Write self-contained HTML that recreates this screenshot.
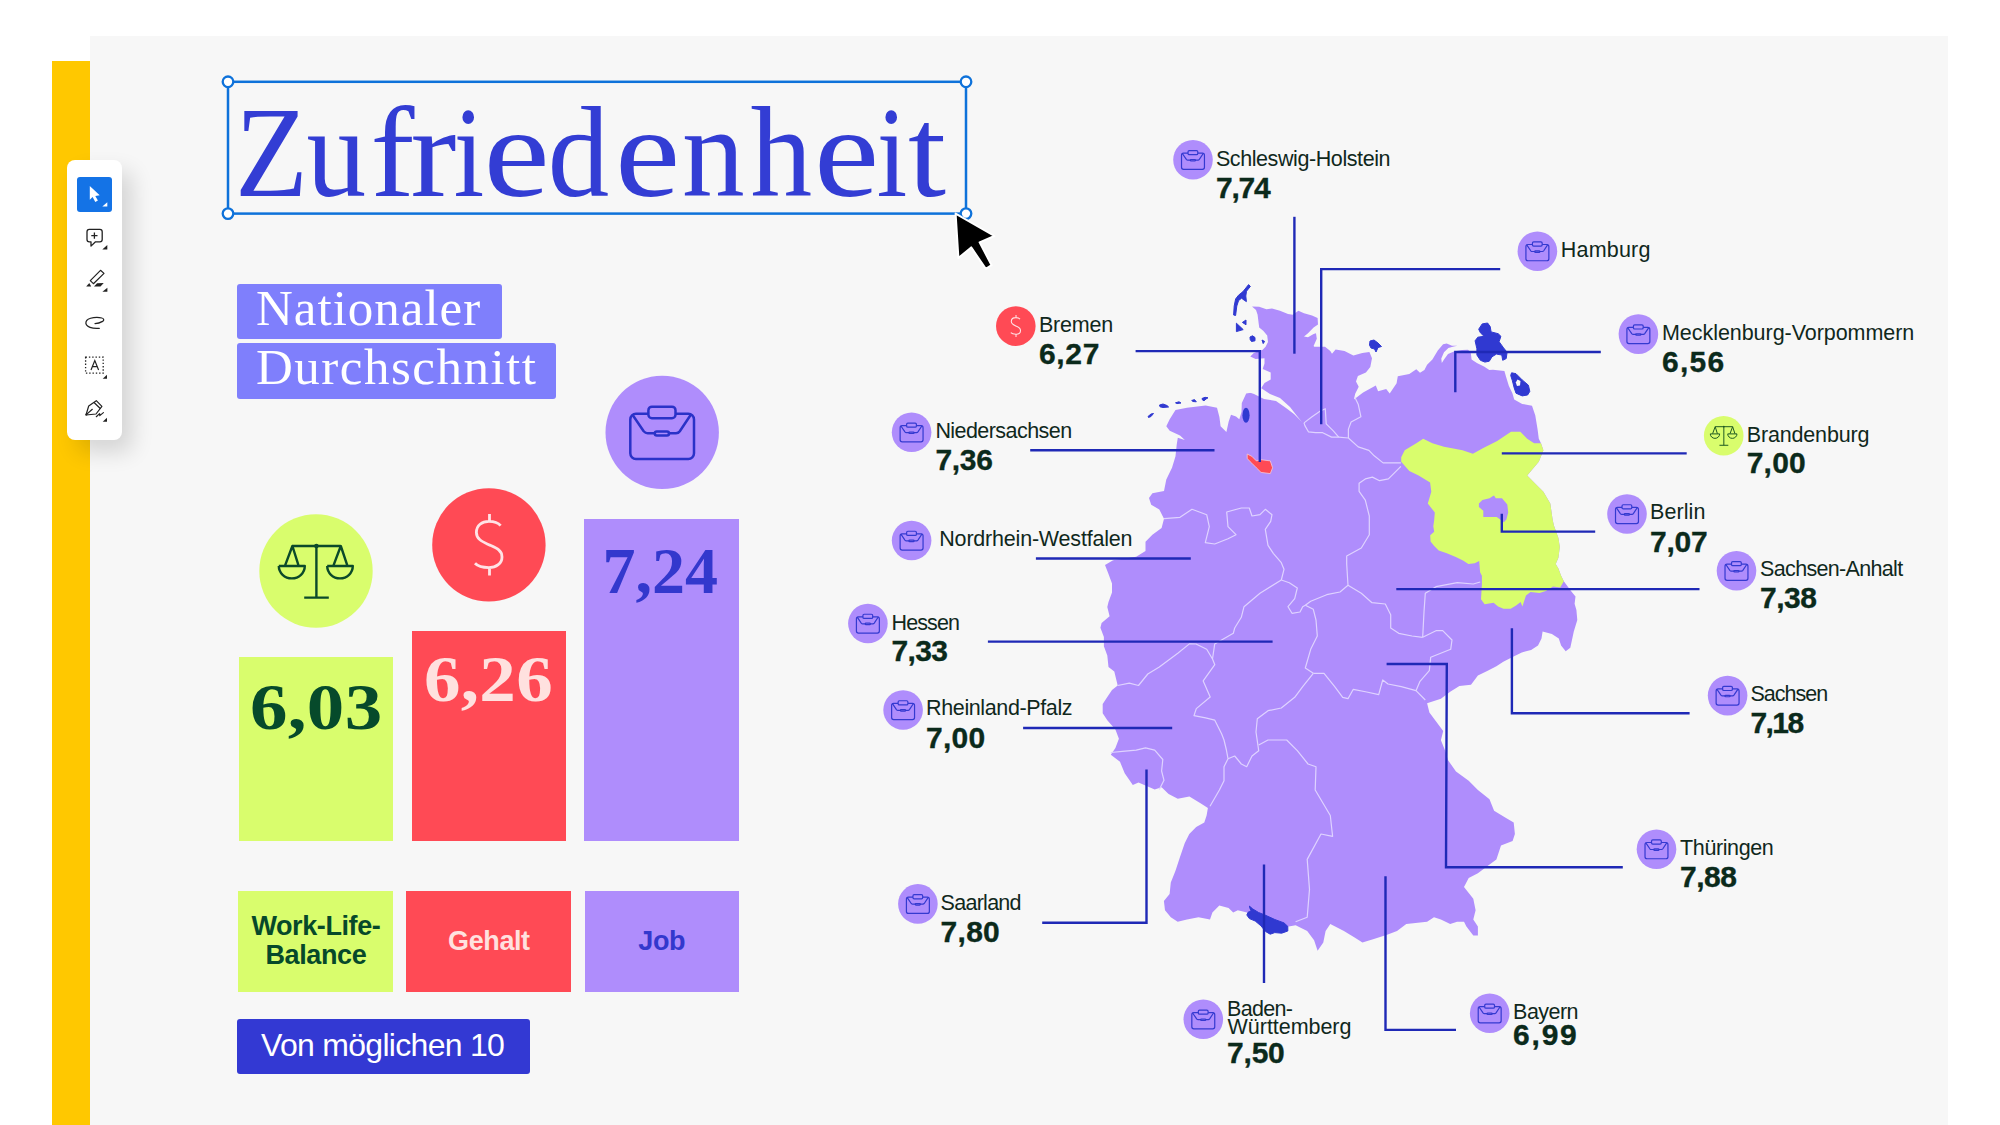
<!DOCTYPE html>
<html><head><meta charset="utf-8"><title>Zufriedenheit</title>
<style>
*{margin:0;padding:0;box-sizing:border-box}
html,body{width:2000px;height:1125px;overflow:hidden;background:#fff}
body{position:relative;font-family:"Liberation Sans",sans-serif}
#panel{position:absolute;left:90px;top:36px;width:1858px;height:1089px;background:#f7f7f7}
#yellow{position:absolute;left:52px;top:61px;width:38px;height:1064px;background:#ffc800}
#toolbar{position:absolute;left:67px;top:160px;width:55px;height:280px;background:#fff;border-radius:8px;box-shadow:10px 12px 22px rgba(0,0,0,0.14)}
#tb-sel{position:absolute;left:77px;top:177px;width:35px;height:35px;background:#1473e6;border-radius:3px}
.abs{position:absolute}
.tl{position:absolute;top:0}
#title{position:absolute;left:0;top:88px;width:1000px;height:130px;font-family:"Liberation Serif",serif;font-size:129px;line-height:129px;color:#333dd4;white-space:nowrap;letter-spacing:0.6px}
.nbox{position:absolute;background:#7f7ffc;border-radius:3px}
.ntext{position:absolute;font-family:"Liberation Serif",serif;font-size:51px;line-height:51px;color:#fff;white-space:nowrap;letter-spacing:1px}
.bar{position:absolute}
.bnum{position:absolute;font-family:"Liberation Serif",serif;font-weight:700;font-size:66px;line-height:66px;white-space:nowrap;letter-spacing:3px}
.lbl{position:absolute;display:flex;align-items:center;justify-content:center;text-align:center;font-weight:700;font-size:27px;line-height:29px;letter-spacing:-0.4px}
.nm{position:absolute;font-size:21.5px;line-height:21.5px;color:#10281c;white-space:nowrap}
.vl{position:absolute;font-size:30px;line-height:30px;font-weight:700;color:#0b2a1b;white-space:nowrap;-webkit-text-stroke:0.35px #0b2a1b}
</style></head><body>
<div id="panel"></div>
<div id="yellow"></div>

<div id="toolbar"></div>
<div id="tb-sel"></div>
<svg id="tbsvg" width="2000" height="1125" style="position:absolute;left:0;top:0">
 <!-- select arrow (white on blue) -->
 <path d="M89.8,185.9 L89.8,199.7 L92.6,197.1 L95.3,201.9 L97.9,200.5 L95.3,196.1 L99.7,195.3 Z" fill="#fff"/>
 <path d="M102.3,206.6 L107.3,202.3 L107.3,206.6 Z" fill="#fff"/>
 <!-- comment add -->
 <g fill="none" stroke="#222" stroke-width="1.3" stroke-linejoin="round">
  <path d="M89.3,229.4 h10.6 a2.3,2.3 0 0 1 2.3,2.3 v7.8 a2.3,2.3 0 0 1 -2.3,2.3 h-4.4 l-4.5,4.3 v-4.3 h-1.7 a2.3,2.3 0 0 1 -2.3,-2.3 v-7.8 a2.3,2.3 0 0 1 2.3,-2.3 z"/>
  <path d="M94.4,232.5 v6.2 M91.3,235.6 h6.2"/>
 </g>
 <path d="M102.3,249.4 L107.3,245.1 L107.3,249.4 Z" fill="#222"/>
 <!-- highlighter -->
 <path d="M90.3,280.6 L100.5,270.3 L104,273.4 L93.4,283.7 Z" fill="none" stroke="#222" stroke-width="1.2" stroke-linejoin="round"/>
 <path d="M86.2,286.6 L89.3,283.1 L91.2,286.6 Z" fill="#222"/>
 <path d="M94,286.6 L97.1,283.3 L103.7,283.1 L100.5,286.6 Z" fill="#222"/>
 <path d="M102.4,291.8 L107.4,287.7 L107.4,291.8 Z" fill="#222"/>
 <!-- lasso -->
 <path d="M95,323.5 C97.5,323.5 100.5,322.6 102.6,321.4 C104.5,320.2 103.8,318.4 101.8,318 C99,317.4 96,317.4 93.6,317.7 C90,318.2 86.6,319.6 86,321.9 C85.4,324.4 87.5,326.4 90,327.4 C93,328.6 96.6,328.6 99.3,328.4" fill="none" stroke="#222" stroke-width="1.25" stroke-linecap="round"/>
 <!-- text select -->
 <rect x="85.6" y="357.2" width="17.6" height="16" fill="none" stroke="#222" stroke-width="1.3" stroke-dasharray="1.4,1.9"/>
 <path d="M91,369.9 L94.8,360.6 L98.6,369.9 M92.3,366.7 L97.3,366.7" fill="none" stroke="#222" stroke-width="1.2"/>
 <path d="M102.7,378.7 L107,374.7 L107,378.7 Z" fill="#222"/>
 <!-- pen -->
 <g fill="none" stroke="#222" stroke-width="1.2" stroke-linejoin="round" stroke-linecap="round">
  <path d="M86,415 L88.7,406 L96.3,400.7 L101.9,406.3 L96,414 Z"/>
  <path d="M86.3,414.6 L92.3,409.3"/>
  <path d="M94.3,402.7 L100,408.3"/>
  <path d="M96.3,416.7 L99.6,413.6 L99.8,415.6 L103.4,412.6"/>
 </g>
 <circle cx="86.4" cy="414.6" r="1" fill="#222"/>
 <path d="M102.7,421.7 L107,417.7 L107,421.7 Z" fill="#222"/>
</svg>

<!-- title -->
<div id="title"><span class="tl" style="left:231.8px;transform:scaleX(0.926);transform-origin:39.0px 0">Z</span><span class="tl" style="left:303.6px;transform:scaleX(0.925);transform-origin:32.0px 0">u</span><span class="tl" style="left:370.9px;transform:scaleX(1.023);transform-origin:23.5px 0">f</span><span class="tl" style="left:411.6px;transform:scaleX(1.069);transform-origin:22.5px 0">r</span><span class="tl" style="left:451.4px;transform:scaleX(0.850);transform-origin:18.0px 0">i</span><span class="tl" style="left:488.0px;transform:scaleX(1.156);transform-origin:29.0px 0">e</span><span class="tl" style="left:545.8px;transform:scaleX(0.952);transform-origin:34.0px 0">d</span><span class="tl" style="left:618.7px;transform:scaleX(1.138);transform-origin:29.0px 0">e</span><span class="tl" style="left:680.5px;transform:scaleX(0.972);transform-origin:33.0px 0">n</span><span class="tl" style="left:748.6px;transform:scaleX(0.955);transform-origin:32.0px 0">h</span><span class="tl" style="left:817.7px;transform:scaleX(1.138);transform-origin:29.0px 0">e</span><span class="tl" style="left:874.1px;transform:scaleX(0.850);transform-origin:18.0px 0">i</span><span class="tl" style="left:909.3px;transform:scaleX(1.062);transform-origin:18.0px 0">t</span></div>
<svg class="abs" style="left:0;top:0" width="2000" height="1125">
 <rect x="228" y="81.8" width="738" height="131.8" fill="none" stroke="#0e72da" stroke-width="2.5"/>
 <g fill="#fff" stroke="#0e72da" stroke-width="2.3">
  <circle cx="228" cy="81.8" r="5.3"/><circle cx="966" cy="81.8" r="5.3"/><circle cx="228" cy="213.6" r="5.3"/><circle cx="966" cy="213.6" r="5.3"/>
 </g>
 <path d="M955.6,213.6 L994.4,236 L979.6,242.4 L991.6,265.2 L985.8,268.9 L971.2,247.4 L958.4,258 Z" fill="#000" stroke="#fff" stroke-width="2" stroke-linejoin="round"/>
</svg>
<!-- nationaler durchschnitt -->
<div class="nbox" style="left:236.6px;top:283.5px;width:265px;height:55.3px"></div>
<div class="nbox" style="left:236.6px;top:343.4px;width:319.6px;height:55.3px"></div>
<div class="ntext" style="left:256px;top:283.3px">Nationaler</div>
<div class="ntext" style="left:256px;top:341.8px;letter-spacing:1.5px">Durchschnitt</div>
<!-- bars -->
<div class="bar" style="left:238.7px;top:657px;width:154.6px;height:184px;background:#d9fd6d"></div>
<div class="bar" style="left:412px;top:631px;width:153.8px;height:210px;background:#ff4a55"></div>
<div class="bar" style="left:584.4px;top:518.7px;width:154.6px;height:322.3px;background:#af8dfc"></div>
<div class="bnum" style="left:250.0px;top:674.4px;color:#064a2b;letter-spacing:0.3px;transform:scaleX(1.135);transform-origin:0 0">6,03</div>
<div class="bnum" style="left:424.0px;top:645.9px;color:#ffe1df;letter-spacing:0.3px;transform:scaleX(1.105);transform-origin:0 0">6,26</div>
<div class="bnum" style="left:602.5px;top:538.4px;color:#3338cd;letter-spacing:0px">7,24</div>
<svg class="abs" style="left:0;top:0" width="2000" height="1125">
 <circle cx="316" cy="571" r="56.7" fill="#d9fd6d"/>
 <circle cx="488.9" cy="544.9" r="56.7" fill="#ff4a55"/>
 <circle cx="662.2" cy="432.4" r="56.7" fill="#af8dfc"/>
 <g fill="none" stroke="#0b4a2a" stroke-width="2.40" stroke-linejoin="round"><path d="M292.40,546.00 L340.80,546.00 M316.40,546.00 L316.40,597.60 M304.20,597.60 L328.80,597.60 M285.20,565.20 L292.40,546.00 L298.40,565.20 M333.60,565.20 L340.80,546.00 L347.20,565.20 M278.80,566.00 L304.80,566.00 A13.00,12.40 0 0 1 278.80,566.00 M327.20,566.00 L352.80,566.00 A12.80,12.40 0 0 1 327.20,566.00"/><circle cx="316.40" cy="546.00" r="2.30" fill="#0b4a2a" stroke="none"/></g>
 <path d="M500.60,525.60 C497.90,522.40 492.90,521.40 488.90,521.40 C481.90,521.40 476.40,525.40 476.40,532.40 C476.40,539.40 482.90,541.90 488.90,544.70 C495.90,547.90 502.00,549.90 502.00,556.90 C502.00,563.40 496.40,567.60 488.90,567.60 C482.90,567.60 477.40,565.90 475.00,563.30 M489.50,513.90 L489.50,521.40 M489.50,567.60 L489.50,575.40" fill="none" stroke="#ffe3e6" stroke-width="2.80" stroke-linecap="butt"/>
 <g fill="none" stroke="#2a32c8" stroke-width="2.50" stroke-linejoin="round" stroke-linecap="round"><rect x="630.30" y="413.80" width="63.70" height="45.20" rx="5.70"/><path d="M633.00,415.50 L643.70,431.20 Q645.40,433.20 647.70,433.20 L654.80,433.20 M669.00,433.20 L676.00,433.20 Q678.40,433.20 679.80,431.20 L690.60,415.00"/><rect x="648.40" y="406.70" width="27.10" height="11.50" rx="3.50" fill="#af8dfc"/><rect x="654.80" y="431.60" width="14.20" height="4.00" rx="2.00"/></g>
</svg>
<!-- bar labels -->
<div class="lbl" style="left:238.4px;top:891px;width:155px;height:100.5px;background:#d9fd6d;color:#06492a">Work-Life-<br>Balance</div>
<div class="lbl" style="left:406.3px;top:891px;width:165.2px;height:100.5px;background:#ff4a55;color:#ffe1df">Gehalt</div>
<div class="lbl" style="left:584.5px;top:891px;width:154.4px;height:100.5px;background:#af8dfc;color:#3338cd">Job</div>
<div class="abs" style="left:236.5px;top:1018.5px;width:293.5px;height:55.3px;background:#3339d3;border-radius:3px"></div>
<div class="abs" style="left:261px;top:1029.4px;font-size:32px;line-height:32px;color:#fff;white-space:nowrap;letter-spacing:-0.7px">Von möglichen 10</div>
<!-- map -->
<svg class="abs" style="left:0;top:0" width="2000" height="1125">
<path d="M1252.0,306.4 L1259.2,306.8 L1266.4,309.2 L1272.0,308.4 L1280.0,310.8 L1288.0,314.0 L1292.8,314.8 L1298.4,310.8 L1304.0,313.2 L1312.0,315.6 L1317.6,318.0 L1318.0,324.4 L1313.6,327.6 L1308.0,333.2 L1304.0,336.4 L1308.0,337.2 L1313.6,334.0 L1316.0,333.2 L1316.8,338.8 L1313.6,346.0 L1314.3,346.7 L1325.0,346.7 L1330.3,351.1 L1332.0,353.8 L1335.6,349.4 L1344.5,351.1 L1353.4,355.6 L1362.3,352.9 L1369.4,352.0 L1372.0,358.2 L1370.3,367.1 L1365.9,372.5 L1357.9,376.0 L1356.0,381.4 L1358.7,386.7 L1355.2,393.8 L1353.9,399.4 L1363.1,392.4 L1375.8,385.5 L1378.1,391.3 L1386.2,389.0 L1389.7,393.6 L1396.6,383.2 L1397.8,376.3 L1409.3,374.0 L1416.3,369.3 L1420.0,372.8 L1424.4,370.1 L1427.1,364.8 L1432.4,359.4 L1437.8,350.6 L1443.1,344.3 L1446.7,343.4 L1452.0,345.7 L1457.3,345.7 L1453.8,346.6 L1448.4,347.9 L1444.0,352.3 L1441.3,358.6 L1441.8,363.0 L1444.0,359.4 L1448.0,354.0 L1454.0,351.5 L1462.0,350.0 L1468.0,349.7 L1470.7,352.3 L1471.6,359.4 L1476.9,363.0 L1484.0,366.6 L1489.3,370.1 L1492.9,369.7 L1504.4,371.0 L1506.2,377.2 L1508.9,386.1 L1512.4,393.2 L1514.2,399.4 L1522.2,403.9 L1532.0,405.7 L1535.3,415.6 L1537.6,429.4 L1538.8,438.7 L1541.0,443.3 L1543.4,450.2 L1538.8,461.8 L1527.2,475.6 L1534.1,482.6 L1543.4,491.8 L1550.3,503.4 L1552.6,519.6 L1553.9,525.4 L1558.4,538.0 L1559.8,547.0 L1558.4,557.8 L1555.7,564.1 L1558.4,568.6 L1561.1,575.8 L1563.8,581.2 L1571.0,591.1 L1575.5,596.5 L1574.6,603.7 L1576.4,610.0 L1577.3,620.0 L1573.8,631.6 L1570.3,647.8 L1565.7,651.3 L1561.1,645.5 L1558.8,638.6 L1551.9,634.0 L1542.6,631.6 L1541.5,638.6 L1538.0,645.5 L1531.1,650.1 L1521.8,652.4 L1512.6,657.1 L1503.3,661.7 L1496.4,666.3 L1487.2,670.9 L1477.9,675.6 L1471.0,684.8 L1459.4,686.0 L1450.2,691.7 L1440.9,698.7 L1434.0,701.0 L1427.1,703.3 L1429.4,712.5 L1436.3,721.8 L1443.2,731.0 L1440.9,740.3 L1445.6,751.8 L1447.9,760.0 L1456.0,771.6 L1468.7,780.8 L1477.9,790.0 L1489.5,799.3 L1494.1,810.8 L1505.6,817.8 L1513.7,822.4 L1514.9,834.0 L1512.6,840.9 L1501.0,845.5 L1496.4,859.4 L1487.2,866.3 L1477.9,873.2 L1468.7,877.9 L1464.0,887.1 L1473.3,898.7 L1475.6,910.2 L1473.3,919.5 L1477.9,926.4 L1477.9,935.6 L1473.3,935.6 L1466.4,926.4 L1464.0,921.8 L1457.1,921.8 L1450.2,924.1 L1440.9,919.5 L1434.0,917.2 L1427.1,921.8 L1406.3,924.1 L1397.0,931.0 L1387.8,934.5 L1373.9,939.1 L1362.4,942.6 L1355.4,938.0 L1343.9,931.0 L1330.3,924.1 L1325.6,931.0 L1323.3,942.6 L1317.6,950.7 L1314.1,940.3 L1307.2,931.0 L1295.6,925.2 L1288.7,926.4 L1280.0,928.0 L1265.0,920.0 L1252.0,913.0 L1247.0,912.5 L1237.8,910.2 L1233.2,912.5 L1228.6,907.9 L1219.3,905.6 L1212.4,912.5 L1210.0,919.5 L1198.5,917.2 L1187.0,919.5 L1177.7,921.8 L1170.8,917.2 L1165.0,910.2 L1163.9,901.0 L1169.6,894.0 L1170.8,882.5 L1175.4,871.0 L1180.0,857.0 L1184.7,843.2 L1189.3,834.0 L1196.2,827.0 L1204.3,822.4 L1206.6,815.5 L1207.9,808.0 L1200.9,803.4 L1189.4,796.4 L1177.8,798.8 L1168.6,794.1 L1161.6,787.2 L1154.7,789.5 L1146.6,786.0 L1138.5,782.6 L1132.8,784.9 L1124.7,773.3 L1120.0,761.8 L1110.8,754.8 L1115.4,747.9 L1118.9,738.7 L1115.4,729.4 L1107.3,720.2 L1102.7,713.2 L1102.7,704.0 L1107.3,697.0 L1112.0,690.1 L1117.7,685.5 L1114.3,671.6 L1108.5,667.0 L1107.3,655.5 L1103.9,646.2 L1103.9,637.0 L1100.4,627.7 L1101.6,623.1 L1109.6,616.2 L1107.3,606.9 L1108.5,601.9 L1112.0,592.6 L1112.0,583.4 L1108.5,574.1 L1105.0,564.9 L1113.1,560.3 L1136.2,556.8 L1145.5,551.0 L1145.5,541.8 L1152.4,534.8 L1161.6,527.9 L1164.0,518.7 L1159.3,509.4 L1151.2,504.8 L1149.0,497.9 L1152.4,493.2 L1164.0,491.0 L1166.3,479.4 L1172.0,467.8 L1175.5,456.3 L1176.7,444.7 L1177.8,437.8 L1184.8,440.0 L1180.0,435.5 L1169.7,430.8 L1166.3,426.2 L1169.7,419.3 L1175.5,410.0 L1187.0,407.7 L1205.6,405.4 L1217.0,407.7 L1219.4,417.0 L1220.6,426.2 L1226.4,432.0 L1228.7,421.6 L1231.0,414.7 L1236.0,416.5 L1239.3,419.2 L1241.5,412.0 L1241.8,403.0 L1246.2,393.6 L1252.4,392.4 L1261.0,388.5 L1264.5,383.1 L1270.7,379.6 L1270.7,372.5 L1262.7,369.0 L1264.5,363.6 L1264.5,358.2 L1255.6,359.0 L1250.3,356.5 L1253.8,352.9 L1261.0,350.2 L1262.4,350.0 L1265.6,346.8 L1268.0,342.0 L1267.2,335.6 L1263.2,330.8 L1259.2,327.6 L1258.4,321.2 L1257.6,314.8 L1256.0,310.0 Z" fill="#af8dfc"/>
<path d="M1248.0,392.0 L1261.0,388.0 L1270.0,394.0 L1280.0,398.0 L1290.0,407.0 L1297.0,416.0 L1302.0,422.0 L1294.0,414.0 L1286.0,408.0 L1276.0,401.0 L1264.0,399.0 L1254.0,394.0 Z" fill="#f7f7f7"/>
<path d="M1401.2,457.2 L1404.7,450.2 L1416.3,443.3 L1423.2,438.7 L1432.4,443.3 L1444.0,446.8 L1462.5,450.2 L1472.9,453.7 L1483.3,447.9 L1497.2,441.0 L1511.0,431.7 L1520.3,431.7 L1527.2,438.7 L1534.1,443.3 L1541.0,443.3 L1543.4,450.2 L1538.8,461.8 L1527.2,475.6 L1534.1,482.6 L1543.4,491.8 L1550.3,503.4 L1552.6,519.6 L1553.9,525.4 L1558.4,538.0 L1559.8,547.0 L1558.4,557.8 L1555.7,564.1 L1558.4,568.6 L1561.1,575.8 L1563.8,581.2 L1560.2,587.5 L1553.0,586.6 L1545.8,591.1 L1539.5,592.9 L1530.5,592.0 L1526.0,595.6 L1522.4,606.4 L1520.6,601.9 L1516.1,605.5 L1510.7,608.7 L1503.5,608.7 L1498.1,606.4 L1493.6,602.8 L1484.6,604.2 L1481.0,599.2 L1481.5,591.1 L1481.9,584.8 L1481.9,575.8 L1480.1,572.2 L1479.2,561.0 L1474.7,563.2 L1468.4,564.1 L1463.0,560.5 L1455.8,556.9 L1446.8,553.3 L1438.7,550.6 L1434.2,546.1 L1430.6,541.6 L1430.2,535.3 L1434.2,531.7 L1433.3,526.3 L1434.2,520.0 L1434.8,512.6 L1427.8,503.4 L1431.3,491.8 L1430.1,482.6 L1418.6,475.6 L1409.3,471.0 L1401.2,461.8 Z" fill="#d9fd6d"/>
<path d="M1478.9,503.6 L1482.4,500.0 L1489.6,498.2 L1492.2,496.4 L1494.0,495.6 L1495.8,498.2 L1502.0,498.2 L1507.3,504.4 L1508.2,512.4 L1506.4,519.6 L1503.8,522.2 L1500.2,519.6 L1496.7,516.9 L1489.6,516.9 L1483.3,516.9 L1483.3,510.7 L1478.9,507.1 Z" fill="#af8dfc"/>
<path d="M1304.0,422.9 L1312.0,416.7 L1320.0,411.3 L1325.3,408.7 L1326.2,423.8 L1333.3,430.9 L1338.7,437.1" fill="none" stroke="#dfd3ff" stroke-width="1.2" stroke-linejoin="round"/>
<path d="M1304.0,422.9 L1304.9,425.6 L1308.4,431.8 L1315.6,432.7 L1322.7,432.7 L1331.6,437.1 L1338.7,437.1 L1348.4,438.0" fill="none" stroke="#dfd3ff" stroke-width="1.2" stroke-linejoin="round"/>
<path d="M1354.7,397.1 L1358.2,404.2 L1360.9,416.7 L1351.1,422.0 L1348.4,429.1 L1348.4,438.0" fill="none" stroke="#dfd3ff" stroke-width="1.2" stroke-linejoin="round"/>
<path d="M1348.4,438.0 L1358.2,446.9 L1368.9,450.4 L1374.2,455.8 L1383.1,462.9 L1400.9,462.9" fill="none" stroke="#dfd3ff" stroke-width="1.2" stroke-linejoin="round"/>
<path d="M1400.9,466.4 L1388.4,478.9 L1379.6,480.7 L1372.4,477.1 L1365.3,478.9 L1359.1,483.3 L1359.1,491.3 L1365.3,500.2 L1368.0,510.9 L1369.3,516.0 L1369.3,534.7 L1361.3,548.0 L1346.7,556.0 L1346.7,564.0 L1348.0,585.3 L1340.0,592.0 L1326.7,594.7 L1310.7,601.3 L1305.3,605.3" fill="none" stroke="#dfd3ff" stroke-width="1.2" stroke-linejoin="round"/>
<path d="M1164.0,518.7 L1180.0,517.3 L1192.0,509.3 L1206.7,514.7 L1209.3,526.7 L1205.3,542.7 L1214.7,544.0 L1228.0,538.7 L1236.0,534.7 L1228.0,526.7 L1226.7,512.0 L1241.3,508.0 L1249.3,508.0 L1252.0,516.0 L1260.0,514.7 L1265.3,509.3 L1272.0,514.7 L1270.7,521.3 L1265.3,529.3 L1268.0,545.3 L1273.3,553.3 L1281.3,562.7 L1284.0,569.3 L1281.3,580.0" fill="none" stroke="#dfd3ff" stroke-width="1.2" stroke-linejoin="round"/>
<path d="M1281.3,580.0 L1289.3,582.7 L1297.3,588.0 L1294.7,598.7 L1288.0,606.7 L1292.0,613.3 L1300.0,612.0 L1302.7,606.7 L1305.3,605.3" fill="none" stroke="#dfd3ff" stroke-width="1.2" stroke-linejoin="round"/>
<path d="M1348.0,585.3 L1361.3,593.3 L1372.0,602.7 L1385.3,604.0 L1390.7,614.7 L1390.7,628.0 L1398.7,633.3 L1412.0,636.0 L1422.7,637.3" fill="none" stroke="#dfd3ff" stroke-width="1.2" stroke-linejoin="round"/>
<path d="M1422.7,637.3 L1424.0,612.0 L1425.3,593.3 L1436.0,586.7 L1457.3,582.7 L1473.3,584.0 L1480.2,582.0" fill="none" stroke="#dfd3ff" stroke-width="1.2" stroke-linejoin="round"/>
<path d="M1422.7,637.3 L1436.0,630.7 L1442.7,630.7 L1452.0,640.0 L1450.7,649.3 L1430.7,657.3 L1429.3,670.7 L1420.0,681.3 L1416.0,690.7 L1425.3,700.0" fill="none" stroke="#dfd3ff" stroke-width="1.2" stroke-linejoin="round"/>
<path d="M1416.0,690.7 L1401.3,686.7 L1388.0,684.0 L1382.7,680.0 L1378.7,694.7 L1366.7,692.0 L1353.3,689.3 L1348.0,698.7 L1342.7,697.3 L1334.7,686.7 L1324.0,673.3 L1313.3,673.3" fill="none" stroke="#dfd3ff" stroke-width="1.2" stroke-linejoin="round"/>
<path d="M1305.3,605.3 L1313.3,609.3 L1316.0,620.0 L1317.3,636.0 L1310.7,649.3 L1305.3,668.0 L1313.3,673.3" fill="none" stroke="#dfd3ff" stroke-width="1.2" stroke-linejoin="round"/>
<path d="M1313.3,673.3 L1302.7,686.7 L1294.7,697.3 L1281.3,708.0 L1268.0,710.7 L1257.3,718.7 L1256.0,732.0 L1258.7,750.7 L1252.0,756.0 L1246.7,766.7 L1241.3,764.0 L1234.7,756.0 L1228.0,758.7" fill="none" stroke="#dfd3ff" stroke-width="1.2" stroke-linejoin="round"/>
<path d="M1258.7,745.0 L1268.0,740.0 L1286.7,740.0 L1297.3,750.7 L1308.0,764.0 L1316.0,766.7 L1315.2,790.0 L1330.3,815.5 L1332.6,836.3 L1321.0,834.0 L1307.2,859.4 L1309.5,889.4 L1307.2,917.2 L1295.6,921.8" fill="none" stroke="#dfd3ff" stroke-width="1.2" stroke-linejoin="round"/>
<path d="M1228.0,758.7 L1224.0,766.7 L1224.0,780.8 L1219.4,790.0 L1210.0,806.2" fill="none" stroke="#dfd3ff" stroke-width="1.2" stroke-linejoin="round"/>
<path d="M1228.0,758.7 L1226.4,750.0 L1224.0,740.0 L1221.7,734.0 L1214.8,720.2 L1205.6,717.9 L1194.0,715.6 L1196.3,708.6 L1210.2,697.0 L1203.2,680.9 L1214.8,664.7 L1212.5,659.0 L1206.7,649.3 L1196.0,644.0 L1189.4,643.9 L1177.8,653.2 L1159.3,667.0 L1147.8,674.0 L1138.5,685.5 L1129.3,683.2 L1117.7,685.5" fill="none" stroke="#dfd3ff" stroke-width="1.2" stroke-linejoin="round"/>
<path d="M1281.3,580.0 L1260.0,593.3 L1244.0,606.7 L1241.3,617.3 L1234.7,628.0 L1233.3,633.3 L1214.7,644.0 L1212.5,659.0" fill="none" stroke="#dfd3ff" stroke-width="1.2" stroke-linejoin="round"/>
<path d="M1110.8,752.5 L1122.4,751.4 L1136.2,750.2 L1145.5,747.9 L1154.7,750.2 L1162.8,759.5 L1161.6,771.0 L1164.0,780.3 L1159.3,789.5" fill="none" stroke="#dfd3ff" stroke-width="1.2" stroke-linejoin="round"/>
<path d="M1247.2,454.0 L1251.8,456.3 L1256.4,460.9 L1261.0,459.7 L1270.3,460.9 L1272.6,467.8 L1270.3,473.6 L1261.0,472.4 L1256.4,467.8 L1251.8,463.2 L1247.2,458.6 Z" fill="#ff4a55" stroke="#f5c9d8" stroke-width="0.8"/>
<path d="M1482.2,323.9 L1487.6,323.0 L1490.2,326.6 L1491.1,331.9 L1498.2,333.7 L1500.9,336.3 L1499.1,341.7 L1503.6,347.9 L1507.1,352.3 L1506.2,358.6 L1502.7,360.3 L1501.8,355.0 L1496.4,354.1 L1492.0,356.8 L1489.3,361.2 L1484.9,362.1 L1480.4,360.3 L1476.9,355.0 L1476.9,348.8 L1475.1,340.8 L1477.8,337.2 L1484.0,336.3 L1480.4,332.8 L1478.7,329.2 Z" fill="#3039d1" stroke="#3039d1" stroke-width="1" stroke-linejoin="round"/>
<path d="M1511.6,372.8 L1516.0,373.7 L1522.2,379.9 L1528.4,385.2 L1529.8,391.4 L1527.6,395.0 L1522.2,395.9 L1516.0,393.2 L1514.2,387.9 L1512.4,380.8 L1510.7,375.4 Z" fill="#3039d1" stroke="#3039d1" stroke-width="1" stroke-linejoin="round"/>
<path d="M1248.6,284.6 L1250.4,286.4 L1246.5,291.2 L1245.8,296.0 L1246.4,301.6 L1244.2,300.2 L1241.6,298.2 L1238.6,300.5 L1236.8,306.0 L1235.6,315.5 L1233.6,315.0 L1234.2,306.0 L1235.6,299.0 L1238.5,295.2 L1243.0,291.6 Z" fill="#3039d1" stroke="#3039d1" stroke-width="1" stroke-linejoin="round"/>
<path d="M1370.0,341.0 L1374.0,340.0 L1378.0,343.0 L1381.5,346.5 L1378.0,347.5 L1376.0,352.0 L1374.5,349.0 L1371.0,348.0 L1369.5,345.0 Z" fill="#3039d1" stroke="#3039d1" stroke-width="1" stroke-linejoin="round"/>
<path d="M1249.4,906.1 L1252.8,909.0 L1258.6,912.5 L1265.6,915.3 L1274.8,919.5 L1284.0,922.9 L1287.8,926.4 L1287.8,931.0 L1281.7,933.2 L1274.8,932.6 L1270.2,934.2 L1265.6,931.5 L1260.9,925.8 L1255.2,921.0 L1249.4,918.6 L1246.8,915.0 L1248.2,912.1 L1251.2,911.2 L1250.0,908.5 Z" fill="#3039d1" stroke="#3039d1" stroke-width="1" stroke-linejoin="round"/>
<path d="M1236.4,323.2 L1243.2,329.6 L1236.4,331.6 Z" fill="#3039d1" stroke="#3039d1" stroke-width="1" stroke-linejoin="round"/>
<path d="M1246.0,320.0 L1246.0,324.8 L1242.4,322.4 Z" fill="#3039d1" stroke="#3039d1" stroke-width="1" stroke-linejoin="round"/>
<path d="M1250.0,337.0 L1252.5,335.8 L1255.0,337.5 L1255.0,340.8 L1251.5,341.5 L1250.2,339.5 Z" fill="#3039d1" stroke="#3039d1" stroke-width="1" stroke-linejoin="round"/>
<path d="M1262.0,340.0 L1264.6,341.4 L1263.2,343.6 Z" fill="#3039d1" stroke="#3039d1" stroke-width="1" stroke-linejoin="round"/>
<path d="M1148.0,416.5 L1151.0,414.0 L1153.5,413.5 L1151.0,416.5 L1148.5,417.5 Z" fill="#3039d1" stroke="#3039d1" stroke-width="1" stroke-linejoin="round"/>
<path d="M1159.5,405.0 L1163.0,404.0 L1167.0,405.5 L1168.6,407.0 L1163.0,407.5 L1160.0,406.8 Z" fill="#3039d1" stroke="#3039d1" stroke-width="1" stroke-linejoin="round"/>
<path d="M1175.5,402.8 L1179.0,401.8 L1181.0,403.0 L1177.0,403.6 Z" fill="#3039d1" stroke="#3039d1" stroke-width="1" stroke-linejoin="round"/>
<path d="M1191.7,400.5 L1194.5,399.6 L1196.3,401.8 L1193.0,401.5 Z" fill="#3039d1" stroke="#3039d1" stroke-width="1" stroke-linejoin="round"/>
<path d="M1202.0,398.5 L1205.0,397.3 L1208.0,397.8 L1206.0,399.0 L1204.0,400.8 L1202.5,400.0 Z" fill="#3039d1" stroke="#3039d1" stroke-width="1" stroke-linejoin="round"/>
<path d="M1517.5,379.5 L1520.5,381.0 L1520.0,385.5 L1517.0,386.0 L1515.8,382.5 Z" fill="#f7f7f7"/>
<ellipse cx="1246" cy="415.2" rx="3.6" ry="7.5" fill="#3039d1"/>
<path d="M1294.4,216.8 L1294.4,353.7" fill="none" stroke="#1f29b6" stroke-width="2.4"/>
<path d="M1500.2,269.1 L1321.2,269.1 L1321.2,424.2" fill="none" stroke="#1f29b6" stroke-width="2.4"/>
<path d="M1135.6,351.1 L1259.8,351.1 L1259.8,462.0" fill="none" stroke="#1f29b6" stroke-width="2.4"/>
<path d="M1600.8,352.0 L1455.3,352.0 L1455.3,392.3" fill="none" stroke="#1f29b6" stroke-width="2.4"/>
<path d="M1030.2,450.3 L1214.5,450.3" fill="none" stroke="#1f29b6" stroke-width="2.4"/>
<path d="M1686.7,453.4 L1501.8,453.4" fill="none" stroke="#1f29b6" stroke-width="2.4"/>
<path d="M1595.2,531.6 L1501.8,531.6 L1501.8,513.8" fill="none" stroke="#1f29b6" stroke-width="2.4"/>
<path d="M1035.9,558.5 L1190.8,558.5" fill="none" stroke="#1f29b6" stroke-width="2.4"/>
<path d="M1699.5,589.1 L1396.3,589.1" fill="none" stroke="#1f29b6" stroke-width="2.4"/>
<path d="M987.9,641.6 L1272.6,641.6" fill="none" stroke="#1f29b6" stroke-width="2.4"/>
<path d="M1689.6,713.3 L1511.9,713.3 L1511.9,628.2" fill="none" stroke="#1f29b6" stroke-width="2.4"/>
<path d="M1386.6,664.0 L1446.8,664.0 L1446.0,867.3 L1622.8,867.3" fill="none" stroke="#1f29b6" stroke-width="2.4"/>
<path d="M1023.1,728.0 L1172.2,728.0" fill="none" stroke="#1f29b6" stroke-width="2.4"/>
<path d="M1042.2,922.7 L1146.5,922.7 L1146.5,769.5" fill="none" stroke="#1f29b6" stroke-width="2.4"/>
<path d="M1264.0,864.5 L1264.0,983.0" fill="none" stroke="#1f29b6" stroke-width="2.4"/>
<path d="M1385.5,876.2 L1385.5,1029.9 L1456.0,1029.9" fill="none" stroke="#1f29b6" stroke-width="2.4"/>
<circle cx="1193" cy="159.8" r="19.8" fill="#af8dfc"/><g fill="none" stroke="#343ad0" stroke-width="1.20" stroke-linejoin="round" stroke-linecap="round"><rect x="1181.52" y="153.10" width="22.93" height="16.27" rx="2.05"/><path d="M1182.49,153.72 L1186.34,159.37 Q1186.95,160.09 1187.78,160.09 L1190.34,160.09 M1195.45,160.09 L1197.97,160.09 Q1198.83,160.09 1199.34,159.37 L1203.22,153.54"/><rect x="1188.03" y="150.55" width="9.76" height="4.14" rx="1.26" fill="#af8dfc"/><rect x="1190.34" y="159.51" width="5.11" height="1.44" rx="0.72"/></g>
<circle cx="1537.4" cy="251.2" r="19.8" fill="#af8dfc"/><g fill="none" stroke="#343ad0" stroke-width="1.20" stroke-linejoin="round" stroke-linecap="round"><rect x="1525.92" y="244.50" width="22.93" height="16.27" rx="2.05"/><path d="M1526.89,245.12 L1530.74,250.77 Q1531.35,251.49 1532.18,251.49 L1534.74,251.49 M1539.85,251.49 L1542.37,251.49 Q1543.23,251.49 1543.74,250.77 L1547.62,244.94"/><rect x="1532.43" y="241.95" width="9.76" height="4.14" rx="1.26" fill="#af8dfc"/><rect x="1534.74" y="250.91" width="5.11" height="1.44" rx="0.72"/></g>
<circle cx="1015.8" cy="326.1" r="19.8" fill="#ff4a55"/><path d="M1020.01,319.15 C1019.04,318.00 1017.24,317.64 1015.80,317.64 C1013.28,317.64 1011.30,319.08 1011.30,321.60 C1011.30,324.12 1013.64,325.02 1015.80,326.03 C1018.32,327.18 1020.52,327.90 1020.52,330.42 C1020.52,332.76 1018.50,334.27 1015.80,334.27 C1013.64,334.27 1011.66,333.66 1010.80,332.72 M1016.02,314.94 L1016.02,317.64 M1016.02,334.27 L1016.02,337.08" fill="none" stroke="#ffe3e6" stroke-width="1.05" stroke-linecap="butt"/>
<circle cx="1638.4" cy="334.1" r="19.8" fill="#af8dfc"/><g fill="none" stroke="#343ad0" stroke-width="1.20" stroke-linejoin="round" stroke-linecap="round"><rect x="1626.92" y="327.40" width="22.93" height="16.27" rx="2.05"/><path d="M1627.89,328.02 L1631.74,333.67 Q1632.35,334.39 1633.18,334.39 L1635.74,334.39 M1640.85,334.39 L1643.37,334.39 Q1644.23,334.39 1644.74,333.67 L1648.62,327.84"/><rect x="1633.43" y="324.85" width="9.76" height="4.14" rx="1.26" fill="#af8dfc"/><rect x="1635.74" y="333.81" width="5.11" height="1.44" rx="0.72"/></g>
<circle cx="911.6" cy="432.3" r="19.8" fill="#af8dfc"/><g fill="none" stroke="#343ad0" stroke-width="1.20" stroke-linejoin="round" stroke-linecap="round"><rect x="900.12" y="425.60" width="22.93" height="16.27" rx="2.05"/><path d="M901.09,426.22 L904.94,431.87 Q905.55,432.59 906.38,432.59 L908.94,432.59 M914.05,432.59 L916.57,432.59 Q917.43,432.59 917.94,431.87 L921.82,426.04"/><rect x="906.63" y="423.05" width="9.76" height="4.14" rx="1.26" fill="#af8dfc"/><rect x="908.94" y="432.01" width="5.11" height="1.44" rx="0.72"/></g>
<circle cx="1723.7" cy="435.7" r="19.8" fill="#d9fd6d"/><g fill="none" stroke="#1f5a22" stroke-width="1.00" stroke-linejoin="round"><path d="M1715.20,426.70 L1732.63,426.70 M1723.84,426.70 L1723.84,445.28 M1719.45,445.28 L1728.31,445.28 M1712.61,433.61 L1715.20,426.70 L1717.36,433.61 M1730.04,433.61 L1732.63,426.70 L1734.93,433.61 M1710.31,433.90 L1719.67,433.90 A4.68,4.46 0 0 1 1710.31,433.90 M1727.73,433.90 L1736.95,433.90 A4.61,4.46 0 0 1 1727.73,433.90"/><circle cx="1723.84" cy="426.70" r="0.83" fill="#1f5a22" stroke="none"/></g>
<circle cx="1627" cy="514" r="19.8" fill="#af8dfc"/><g fill="none" stroke="#343ad0" stroke-width="1.20" stroke-linejoin="round" stroke-linecap="round"><rect x="1615.52" y="507.30" width="22.93" height="16.27" rx="2.05"/><path d="M1616.49,507.92 L1620.34,513.57 Q1620.95,514.29 1621.78,514.29 L1624.34,514.29 M1629.45,514.29 L1631.97,514.29 Q1632.83,514.29 1633.34,513.57 L1637.22,507.74"/><rect x="1622.03" y="504.75" width="9.76" height="4.14" rx="1.26" fill="#af8dfc"/><rect x="1624.34" y="513.71" width="5.11" height="1.44" rx="0.72"/></g>
<circle cx="911.6" cy="540.5" r="19.8" fill="#af8dfc"/><g fill="none" stroke="#343ad0" stroke-width="1.20" stroke-linejoin="round" stroke-linecap="round"><rect x="900.12" y="533.80" width="22.93" height="16.27" rx="2.05"/><path d="M901.09,534.42 L904.94,540.07 Q905.55,540.79 906.38,540.79 L908.94,540.79 M914.05,540.79 L916.57,540.79 Q917.43,540.79 917.94,540.07 L921.82,534.24"/><rect x="906.63" y="531.25" width="9.76" height="4.14" rx="1.26" fill="#af8dfc"/><rect x="908.94" y="540.21" width="5.11" height="1.44" rx="0.72"/></g>
<circle cx="1736.5" cy="570.8" r="19.8" fill="#af8dfc"/><g fill="none" stroke="#343ad0" stroke-width="1.20" stroke-linejoin="round" stroke-linecap="round"><rect x="1725.02" y="564.10" width="22.93" height="16.27" rx="2.05"/><path d="M1725.99,564.72 L1729.84,570.37 Q1730.45,571.09 1731.28,571.09 L1733.84,571.09 M1738.95,571.09 L1741.47,571.09 Q1742.33,571.09 1742.84,570.37 L1746.72,564.54"/><rect x="1731.53" y="561.55" width="9.76" height="4.14" rx="1.26" fill="#af8dfc"/><rect x="1733.84" y="570.51" width="5.11" height="1.44" rx="0.72"/></g>
<circle cx="867.9" cy="623.5" r="19.8" fill="#af8dfc"/><g fill="none" stroke="#343ad0" stroke-width="1.20" stroke-linejoin="round" stroke-linecap="round"><rect x="856.42" y="616.80" width="22.93" height="16.27" rx="2.05"/><path d="M857.39,617.42 L861.24,623.07 Q861.85,623.79 862.68,623.79 L865.24,623.79 M870.35,623.79 L872.87,623.79 Q873.73,623.79 874.24,623.07 L878.12,617.24"/><rect x="862.93" y="614.25" width="9.76" height="4.14" rx="1.26" fill="#af8dfc"/><rect x="865.24" y="623.21" width="5.11" height="1.44" rx="0.72"/></g>
<circle cx="1727.6" cy="695.6" r="19.8" fill="#af8dfc"/><g fill="none" stroke="#343ad0" stroke-width="1.20" stroke-linejoin="round" stroke-linecap="round"><rect x="1716.12" y="688.90" width="22.93" height="16.27" rx="2.05"/><path d="M1717.09,689.52 L1720.94,695.17 Q1721.55,695.89 1722.38,695.89 L1724.94,695.89 M1730.05,695.89 L1732.57,695.89 Q1733.43,695.89 1733.94,695.17 L1737.82,689.34"/><rect x="1722.63" y="686.35" width="9.76" height="4.14" rx="1.26" fill="#af8dfc"/><rect x="1724.94" y="695.31" width="5.11" height="1.44" rx="0.72"/></g>
<circle cx="903.1" cy="710" r="19.8" fill="#af8dfc"/><g fill="none" stroke="#343ad0" stroke-width="1.20" stroke-linejoin="round" stroke-linecap="round"><rect x="891.62" y="703.30" width="22.93" height="16.27" rx="2.05"/><path d="M892.59,703.92 L896.44,709.57 Q897.05,710.29 897.88,710.29 L900.44,710.29 M905.55,710.29 L908.07,710.29 Q908.93,710.29 909.44,709.57 L913.32,703.74"/><rect x="898.13" y="700.75" width="9.76" height="4.14" rx="1.26" fill="#af8dfc"/><rect x="900.44" y="709.71" width="5.11" height="1.44" rx="0.72"/></g>
<circle cx="1656.5" cy="849.2" r="19.8" fill="#af8dfc"/><g fill="none" stroke="#343ad0" stroke-width="1.20" stroke-linejoin="round" stroke-linecap="round"><rect x="1645.02" y="842.50" width="22.93" height="16.27" rx="2.05"/><path d="M1645.99,843.12 L1649.84,848.77 Q1650.45,849.49 1651.28,849.49 L1653.84,849.49 M1658.95,849.49 L1661.47,849.49 Q1662.33,849.49 1662.84,848.77 L1666.72,842.94"/><rect x="1651.53" y="839.95" width="9.76" height="4.14" rx="1.26" fill="#af8dfc"/><rect x="1653.84" y="848.91" width="5.11" height="1.44" rx="0.72"/></g>
<circle cx="917.9" cy="903.9" r="19.8" fill="#af8dfc"/><g fill="none" stroke="#343ad0" stroke-width="1.20" stroke-linejoin="round" stroke-linecap="round"><rect x="906.42" y="897.20" width="22.93" height="16.27" rx="2.05"/><path d="M907.39,897.82 L911.24,903.47 Q911.85,904.19 912.68,904.19 L915.24,904.19 M920.35,904.19 L922.87,904.19 Q923.73,904.19 924.24,903.47 L928.12,897.64"/><rect x="912.93" y="894.65" width="9.76" height="4.14" rx="1.26" fill="#af8dfc"/><rect x="915.24" y="903.61" width="5.11" height="1.44" rx="0.72"/></g>
<circle cx="1489.7" cy="1013.3" r="19.8" fill="#af8dfc"/><g fill="none" stroke="#343ad0" stroke-width="1.20" stroke-linejoin="round" stroke-linecap="round"><rect x="1478.22" y="1006.60" width="22.93" height="16.27" rx="2.05"/><path d="M1479.19,1007.22 L1483.04,1012.87 Q1483.65,1013.59 1484.48,1013.59 L1487.04,1013.59 M1492.15,1013.59 L1494.67,1013.59 Q1495.53,1013.59 1496.04,1012.87 L1499.92,1007.04"/><rect x="1484.73" y="1004.05" width="9.76" height="4.14" rx="1.26" fill="#af8dfc"/><rect x="1487.04" y="1013.01" width="5.11" height="1.44" rx="0.72"/></g>
<circle cx="1203.3" cy="1019.3" r="19.8" fill="#af8dfc"/><g fill="none" stroke="#343ad0" stroke-width="1.20" stroke-linejoin="round" stroke-linecap="round"><rect x="1191.82" y="1012.60" width="22.93" height="16.27" rx="2.05"/><path d="M1192.79,1013.22 L1196.64,1018.87 Q1197.25,1019.59 1198.08,1019.59 L1200.64,1019.59 M1205.75,1019.59 L1208.27,1019.59 Q1209.13,1019.59 1209.64,1018.87 L1213.52,1013.04"/><rect x="1198.33" y="1010.05" width="9.76" height="4.14" rx="1.26" fill="#af8dfc"/><rect x="1200.64" y="1019.01" width="5.11" height="1.44" rx="0.72"/></g>
</svg>
<div class="nm" style="left:1215.9px;top:148.7px;letter-spacing:-0.41px">Schleswig-Holstein</div>
<div class="vl" style="left:1215.9px;top:173.1px;letter-spacing:-1.2px">7,74</div>
<div class="nm" style="left:1560.8px;top:240.1px;letter-spacing:0.2px">Hamburg</div>
<div class="nm" style="left:1039.0px;top:314.6px;letter-spacing:-0.22px">Bremen</div>
<div class="vl" style="left:1039.0px;top:339.1px;letter-spacing:0.67px">6,27</div>
<div class="nm" style="left:1662.0px;top:323.2px;letter-spacing:-0.05px">Mecklenburg-Vorpommern</div>
<div class="vl" style="left:1662.0px;top:346.7px;letter-spacing:1.23px">6,56</div>
<div class="nm" style="left:935.4px;top:420.8px;letter-spacing:-0.56px">Niedersachsen</div>
<div class="vl" style="left:935.4px;top:444.7px;letter-spacing:-0.27px">7,36</div>
<div class="nm" style="left:1746.7px;top:424.8px;letter-spacing:-0.15px">Brandenburg</div>
<div class="vl" style="left:1746.7px;top:447.7px;letter-spacing:0.23px">7,00</div>
<div class="nm" style="left:1650.0px;top:502.4px;letter-spacing:0.08px">Berlin</div>
<div class="vl" style="left:1650.0px;top:526.6px;letter-spacing:-0.27px">7,07</div>
<div class="nm" style="left:939.3px;top:529.4px;letter-spacing:-0.2px">Nordrhein-Westfalen</div>
<div class="nm" style="left:1760.1px;top:559.4px;letter-spacing:-0.67px">Sachsen-Anhalt</div>
<div class="vl" style="left:1760.1px;top:582.9px;letter-spacing:-0.5px">7,38</div>
<div class="nm" style="left:891.6px;top:612.8px;letter-spacing:-0.92px">Hessen</div>
<div class="vl" style="left:891.6px;top:636.3px;letter-spacing:-0.7px">7,33</div>
<div class="nm" style="left:1750.5px;top:684.4px;letter-spacing:-1.0px">Sachsen</div>
<div class="vl" style="left:1750.5px;top:708.1px;letter-spacing:-1.6px">7,18</div>
<div class="nm" style="left:926.1px;top:698.3px;letter-spacing:-0.38px">Rheinland-Pfalz</div>
<div class="vl" style="left:926.1px;top:722.7px;letter-spacing:0.23px">7,00</div>
<div class="nm" style="left:1680.1px;top:837.6px;letter-spacing:-0.4px">Thüringen</div>
<div class="vl" style="left:1680.1px;top:861.8px;letter-spacing:-0.5px">7,88</div>
<div class="nm" style="left:940.6px;top:892.9px;letter-spacing:-0.73px">Saarland</div>
<div class="vl" style="left:940.6px;top:917.3px;letter-spacing:0.27px">7,80</div>
<div class="nm" style="left:1513.1px;top:1002.1px;letter-spacing:-0.54px">Bayern</div>
<div class="vl" style="left:1513.1px;top:1020.1px;letter-spacing:1.77px">6,99</div>
<div class="nm" style="left:1227.1px;top:998.9px;letter-spacing:-0.7px">Baden-</div>
<div class="nm" style="left:1227.6px;top:1017.2px;letter-spacing:-0.04px">Württemberg</div>
<div class="vl" style="left:1227.1px;top:1038.4px;letter-spacing:-0.23px">7,50</div>
</body></html>
